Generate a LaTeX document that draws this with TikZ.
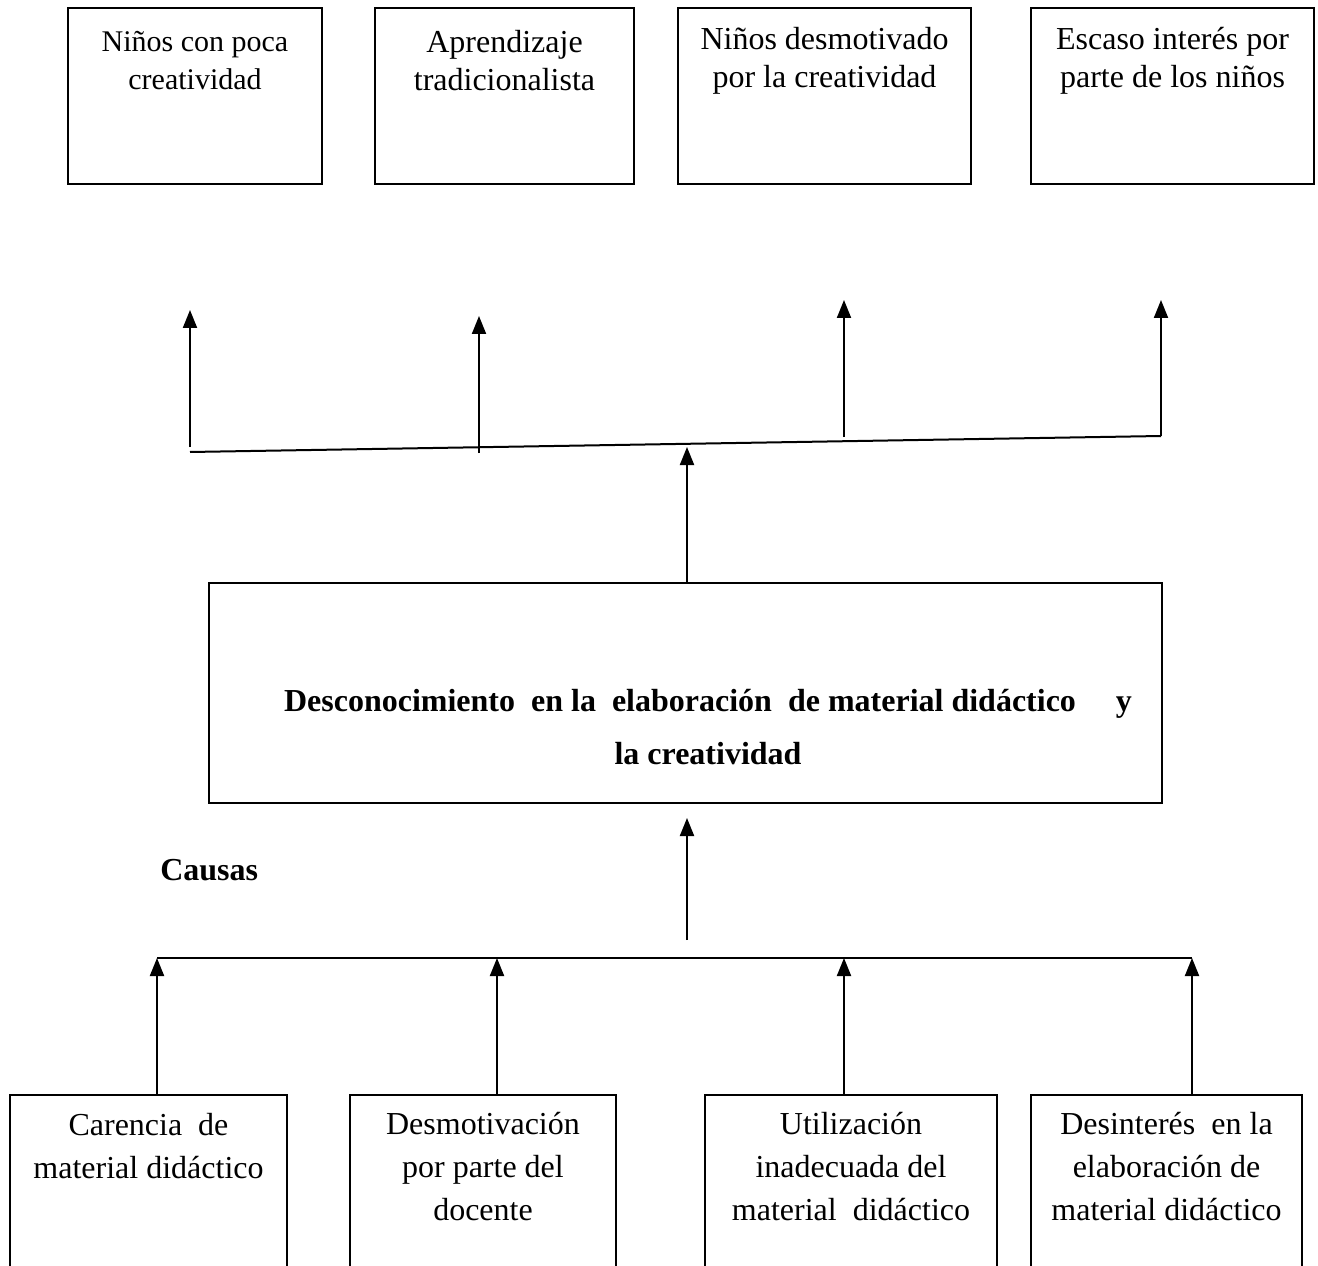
\documentclass[tikz,border=0pt]{standalone}
\usepackage{fontspec}
\setmainfont{Liberation Serif}
\usetikzlibrary{arrows.meta,fit}
\begin{document}
\begin{tikzpicture}[x=0.75pt,y=-0.75pt,
  box/.style={draw, line width=1.2pt, rectangle, inner sep=0pt},
  lbl/.style={align=center, inner sep=0pt, font=\fontsize{24}{28.5}\selectfont},
  blbl/.style={align=center, inner sep=0pt, font=\fontsize{24}{32.25}\selectfont},
  conn/.style={line width=1.5pt},
  arr/.style={conn, -{Triangle[length=13.5pt,width=10.5pt]}}]
\useasboundingbox (0,0) rectangle (1318,1266);
\clip (0,0) rectangle (1318,1266);

% effects
\node[box, fit={(68,8)(322,184)}] (e1) {};
\node[box, fit={(375,8)(634,184)}] (e2) {};
\node[box, fit={(678,8)(971,184)}] (e3) {};
\node[box, fit={(1031,8)(1314,184)}] (e4) {};
\node[lbl, font=\fontsize{22.5}{28.5}\selectfont] (te1) at (195,61) {Niños con poca\\creatividad};
\node[lbl] (te2) at (504.5,61) {Aprendizaje\\tradicionalista};
\node[lbl] (te3) at (824.5,61) {Niños desmotivado\\por la creatividad};
\node[lbl] (te4) at (1172.5,61) {Escaso interés por\\parte de los niños};

% slanted line and effect arrows
\coordinate (sl) at (190,452);
\coordinate (sr) at (1161,436);
\draw[conn] (sl) -- (sr);
\coordinate (a1s) at (190,447);
\coordinate (a1e) at (190,310);
\coordinate (a2s) at (479,453);
\coordinate (a2e) at (479,316);
\coordinate (a3s) at (844,437);
\coordinate (a3e) at (844,300);
\coordinate (a4e) at (1161,300);
\draw[arr] (a1s) -- (a1e);
\draw[arr] (a2s) -- (a2e);
\draw[arr] (a3s) -- (a3e);
\draw[arr] (sr) -- (a4e);

% central problem
\node[box, fit={(209,583)(1162,803)}] (p) {};
\node[align=center, inner sep=0pt, font=\bfseries\fontsize{24}{39.75}\selectfont] (tp) at (708,727)
  {Desconocimiento\ \ en la\ \ elaboración\ \ de material didáctico\ \ \ \ \ y\\la creatividad};
\coordinate (pm) at (687,447);
\draw[arr] (p.north -| pm) -- (pm);

\node[inner sep=0pt, anchor=west, font=\bfseries\fontsize{24}{28}\selectfont] (causas) at (160,870) {Causas};

\coordinate (cb) at (687,940);
\coordinate (ct) at (687,818);
\draw[arr] (cb) -- (ct);

% causes line
\coordinate (h1) at (157,958);
\coordinate (h2) at (497,958);
\coordinate (h3) at (844,958);
\coordinate (h4) at (1192,958);
\draw[conn] (h1) -- (h4);

% causes
\node[box, fit={(10,1095)(287,1290)}] (c1) {};
\node[box, fit={(350,1095)(616,1290)}] (c2) {};
\node[box, fit={(705,1095)(997,1290)}] (c3) {};
\node[box, fit={(1031,1095)(1302,1290)}] (c4) {};
\node[blbl] (tc1) at (148.5,1146) {Carencia\ \ de\\material didáctico};
\node[blbl] (tc2) at (483,1167) {Desmotivación\\por parte del\\docente};
\node[blbl] (tc3) at (851,1167) {Utilización\\inadecuada del\\material\ \ didáctico};
\node[blbl] (tc4) at (1166.5,1167) {Desinterés\ \ en la\\elaboración de\\material didáctico};

\draw[arr] (c1.north -| h1) -- (h1);
\draw[arr] (c2.north -| h2) -- (h2);
\draw[arr] (c3.north -| h3) -- (h3);
\draw[arr] (c4.north -| h4) -- (h4);
\end{tikzpicture}
\end{document}
